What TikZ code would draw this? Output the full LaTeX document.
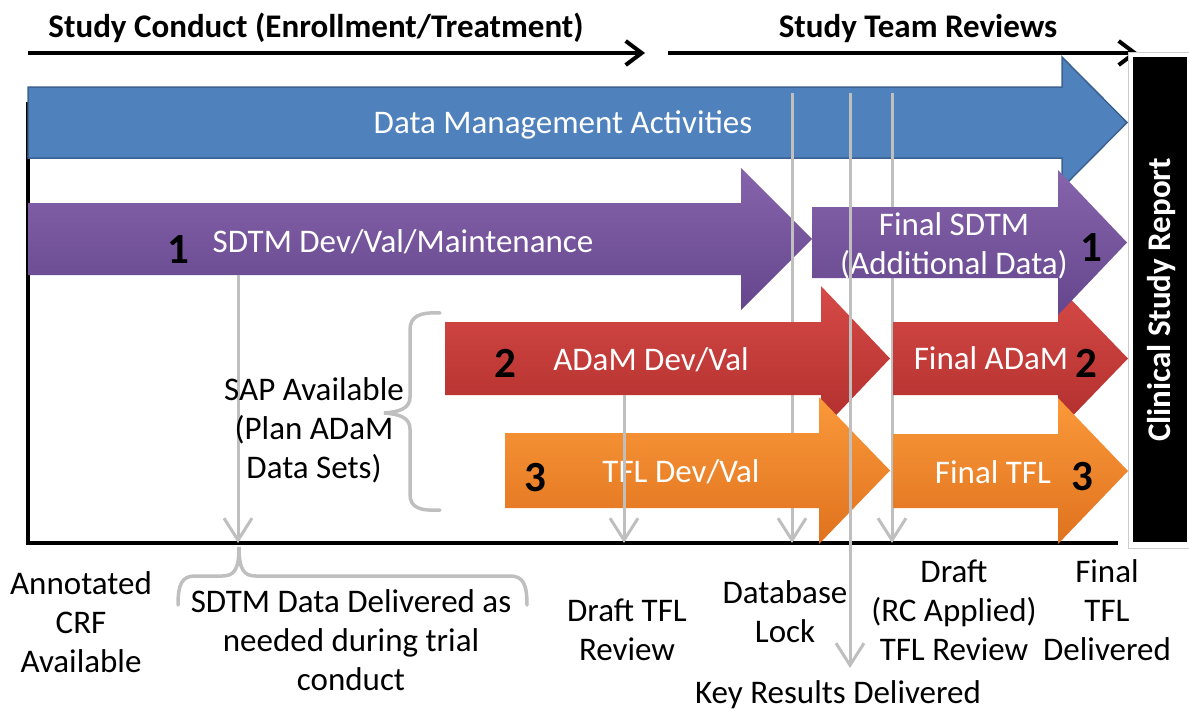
\documentclass[tikz,border=0pt]{standalone}
\usepackage{fontspec}
\setmainfont{Carlito}
\usetikzlibrary{arrows.meta}
\definecolor{dmblue}{RGB}{79,129,189}
\definecolor{dmblueline}{RGB}{60,98,145}
\definecolor{sdtmtop}{RGB}{134,100,171}
\definecolor{sdtmbot}{RGB}{101,70,141}
\definecolor{adamtop}{RGB}{214,74,71}
\definecolor{adambot}{RGB}{176,46,44}
\definecolor{tfltop}{RGB}{250,153,58}
\definecolor{tflbot}{RGB}{224,114,30}
\definecolor{tickgray}{RGB}{191,191,191}
\definecolor{csrframe}{RGB}{205,205,205}
\def\fatarrow[#1](#2:#3:#4)(#5:#6:#7){\path[#1] (#2,#5) -- (#3,#5) -- (#3,#5-#7) -- (#4,{(#5+#6)/2}) -- (#3,#6+#7) -- (#3,#6) -- (#2,#6) -- cycle;}
\tikzset{
	lbl/.style={font=\fontsize{33}{39}\selectfont, align=center, anchor=base, inner sep=0pt},
	wlbl/.style={lbl, text=white},
	ttl/.style={lbl, font=\fontsize{33}{39}\selectfont\bfseries},
	num/.style={anchor=base, inner sep=0pt, font=\fontsize{43}{50}\selectfont\bfseries},
	tline/.style={line width=4pt, -{Straight Barb[length=16pt,width=24pt]}},
	gline/.style={line width=3pt, color=tickgray, -{Straight Barb[length=22pt,width=28pt]}},
	brc/.style={line width=3.5pt, color=tickgray, line cap=round}
}

\begin{document}
\begin{tikzpicture}[x=1pt, y=-1pt]
		%%%%% START %%%%%
		\useasboundingbox (0,0) rectangle (1189,710);
		
		% timeline on top
		\coordinate (conductL) at (28,53);
		\coordinate (conductR) at (645,53);
		\coordinate (reviewL) at (668,53);
		\coordinate (reviewR) at (1138,53);
		\draw[tline] (conductL) -- (conductR);
		\draw[tline] (reviewL) -- (reviewR);
		\node[ttl] (ttlConduct) at (316,37) {Study Conduct (Enrollment/Treatment)};
		\node[ttl] (ttlReview) at (918,37) {Study Team Reviews};
		
		% frame
		\coordinate (frameTop) at (28,102);
		\coordinate (frameCorner) at (28,543);
		\coordinate (frameEnd) at (1118,543);
		\draw[line width=4pt] (frameTop) -- (frameCorner) -- (frameEnd);
		
		% clinical study report
		\draw[csrframe, line width=1pt, fill=white] (1128,52) rectangle (1196,548);
		\fill[black] (1133,57) rectangle (1187,542);
		\node[ttl, anchor=center, rotate=90, text=white] (csrLabel) at (1162,300) {Clinical Study Report};
		
		% data management
		\fatarrow[fill=dmblue, draw=dmblueline, line width=1.5pt](28:1062:1127)(87:158:30);
		\node[wlbl] (dmLabel) at (563,133) {Data Management Activities};
		
		% sdtm
		\fatarrow[top color=sdtmtop, bottom color=sdtmbot](28:741:812)(203:275:35);
		\node[wlbl] (sdtmLabel) at (403,252) {SDTM Dev/Val/Maintenance};
		\node[num] (sdtmNum) at (178,263) {1};
		
		\coordinate (lockTop) at (792,93);
		\coordinate (lockBot) at (792,543);
		\coordinate (rcTop) at (892,93);
		\coordinate (rcBot) at (892,543);
		\draw[gline] (lockTop) -- (lockBot);
		\draw[gline] (rcTop) -- (rcBot);
		
		% adam
		\fatarrow[top color=adamtop, bottom color=adambot](445:821:890)(322:395:36);
		\fatarrow[top color=adamtop, bottom color=adambot](893:1058:1128)(322:395:36);
		\node[wlbl] (adamLabel) at (651,370) {ADaM Dev/Val};
		\node[num] (adamNum) at (505,377) {2};
		\node[wlbl] (fadamLabel) at (991,369) {Final ADaM};
		\node[num] (fadamNum) at (1086,377) {2};
		
		% final sdtm
		\fatarrow[top color=sdtmtop, bottom color=sdtmbot](812:1058:1127)(207:278:37);
		\node[wlbl] (fsdtmLabel) at (954,274) {Final SDTM\\(Additional Data)};
		\node[num] (fsdtmNum) at (1091,261) {1};
		
		% tfl
		\fatarrow[top color=tfltop, bottom color=tflbot](505:819:890)(433:508:36);
		\fatarrow[top color=tfltop, bottom color=tflbot](893:1058:1128)(434:508:36);
		\node[wlbl] (tflLabel) at (681,482) {TFL Dev/Val};
		\node[num] (tflNum) at (535,491) {3};
		\node[wlbl] (ftflLabel) at (993,483) {Final TFL};
		\node[num] (ftflNum) at (1082,490) {3};
		
		% milestones
		\coordinate (crfTop) at (238,275);
		\coordinate (crfBot) at (238,543);
		\coordinate (dtflTop) at (624,395);
		\coordinate (dtflBot) at (624,543);
		\coordinate (keyTop) at (850,93);
		\coordinate (keyBot) at (850,668);
		\draw[gline] (crfTop) -- (crfBot);
		\draw[gline] (dtflTop) -- (dtflBot);
		\draw[gline] (keyTop) -- (keyBot);
		
		% braces
		\draw[brc] (440,313) .. controls (420,312) and (410,316) .. (410,330) -- (410,397) .. controls (410,408) and (400,412) .. (384,413) .. controls (400,414) and (410,418) .. (410,429) -- (410,494) .. controls (410,508) and (420,511) .. (440,510);
		\draw[brc] (178,605) .. controls (178,584) and (182,576) .. (195,576) -- (222,576) .. controls (234,576) and (239,570) .. (239,547) .. controls (239,570) and (244,576) .. (256,576) -- (510,576) .. controls (523,576) and (527,584) .. (527,605);
		
		% labels
		\node[lbl] (sapLabel) at (314,478) {SAP Available\\(Plan ADaM\\Data Sets)};
		\node[lbl] (crfLabel) at (81,672) {Annotated\\CRF\\Available};
		\node[lbl] (deliverLabel) at (351,690) {SDTM Data Delivered as\\needed during trial\\conduct};
		\node[lbl] (dtflLabel) at (627,660) {Draft TFL\\Review};
		\node[lbl] (lockLabel) at (785,642) {Database\\Lock};
		\node[lbl] (rcLabel) at (954,660) {Draft\\(RC Applied)\\TFL Review};
		\node[lbl] (finalLabel) at (1107,660) {Final\\TFL\\Delivered};
		\node[lbl] (keyLabel) at (838,703) {Key Results Delivered};
		
		%%%%% END %%%%%
	\end{tikzpicture}
\end{document}
